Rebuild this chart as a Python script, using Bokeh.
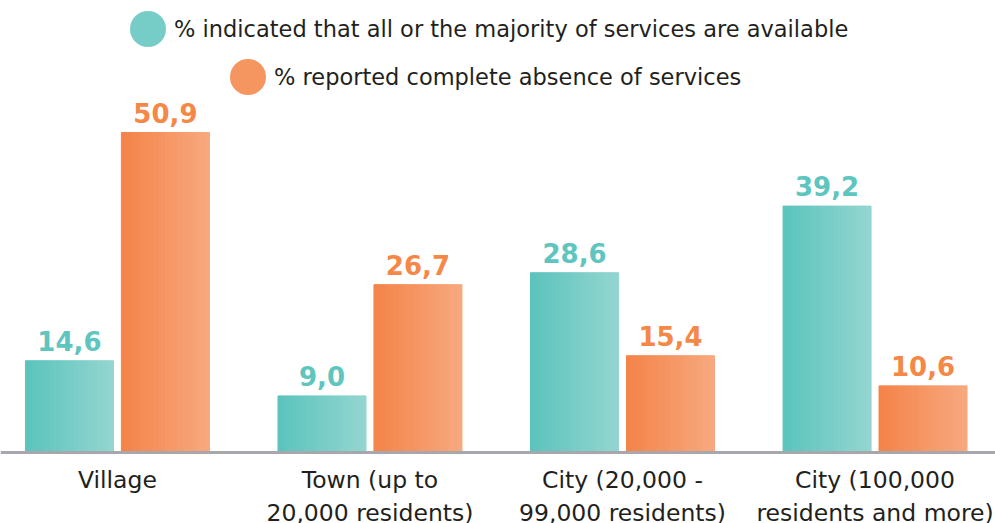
from bokeh.plotting import figure
from bokeh.models import Legend, LegendItem, ColumnDataSource, Span
from bokeh.core.properties import value
from bokeh.embed import file_html
from bokeh.resources import INLINE

categories = ["Village", "Town (up to\n20,000 residents)", "City (20,000 -\n99,000 residents)", "City (100,000\nresidents and more)"]
available = [14.6, 9.0, 28.6, 39.2]
absent = [50.9, 26.7, 15.4, 10.6]
series_names = ["% indicated that all or the majority of services are available",
                "% reported complete absence of services"]

FONT = "DejaVu Sans"
teal_l, teal_r = (0x5B, 0xC4, 0xBD), (0x93, 0xD5, 0xD0)
org_l, org_r = (0xF4, 0x84, 0x4A), (0xF7, 0xA8, 0x7E)
teal_txt, org_txt = "#5EC5BF", "#F58847"
text_col = "#231F20"

p = figure(width=995, height=523, output_backend="svg", toolbar_location=None,
           x_range=(-0.463, 3.477), y_range=(-11.29, 71.9),
           min_border_left=0, min_border_right=0, min_border_top=0, min_border_bottom=0)
p.outline_line_color = None
p.grid.visible = False
p.axis.visible = False
p.background_fill_color = "white"

xs = list(range(len(categories)))
bar_w = 0.3485
off = 0.19
nstrip = 22

def hexc(c):
    return "#%02x%02x%02x" % tuple(int(round(v)) for v in c)

def gradient_bars(vals, center_off, cl, cr):
    sw = bar_w / nstrip
    data = dict(x=[], top=[], color=[])
    for xi, v in zip(xs, vals):
        for k in range(nstrip):
            t = k / (nstrip - 1)
            col = [cl[i] + (cr[i] - cl[i]) * t for i in range(3)]
            data["x"].append(xi + center_off - bar_w / 2 + sw * (k + 0.5))
            data["top"].append(v)
            data["color"].append(hexc(col))
    src = ColumnDataSource(data)
    p.vbar(x="x", top="top", bottom=0, width=sw, fill_color="color",
           line_color="color", line_width=1, source=src)

gradient_bars(available, -off, teal_l, teal_r)
gradient_bars(absent, off, org_l, org_r)

def fmt(v):
    return ("%.1f" % v).replace(".", ",")

for vals, o, col in ((available, -off, teal_txt), (absent, off, org_txt)):
    src = ColumnDataSource(dict(x=[x + o for x in xs], y=vals, t=[fmt(v) for v in vals]))
    p.text(x="x", y="y", text="t", source=src, text_align="center", text_baseline="bottom",
           y_offset=-10, text_font=value(FONT), text_font_style="bold",
           text_font_size="26px", text_color=col)

# baseline axis line
p.add_layout(Span(location=0, dimension="width", line_color="#A7A7AC", line_width=3))

# category labels
csrc = ColumnDataSource(dict(x=xs, y=[0] * len(xs), t=categories))
p.text(x="x", y="y", text="t", source=csrc, text_align="center", text_baseline="top",
       y_offset=13, text_font=value(FONT), text_font_size="23.5px", text_color=text_col,
       text_line_height=1.2)

# legend
r1 = p.ellipse(x=[-5], y=[-50], width=36, height=36, width_units="screen", height_units="screen",
               fill_color="#76CCC6", line_color=None)
r2 = p.ellipse(x=[-5], y=[-50], width=36, height=36, width_units="screen", height_units="screen",
               fill_color="#F5955F", line_color=None)

for r, name, loc in ((r1, series_names[0], (125, 472)), (r2, series_names[1], (225, 424))):
    lg = Legend(items=[LegendItem(label=name, renderers=[r])], location=loc,
                padding=0, margin=0, border_line_color=None, background_fill_alpha=0,
                glyph_width=45, glyph_height=45, label_height=45, label_standoff=4,
                label_text_font=FONT, label_text_font_size="22.5px",
                label_text_color=text_col)
    p.add_layout(lg)

open("out.html", "w").write(file_html(p, INLINE))
